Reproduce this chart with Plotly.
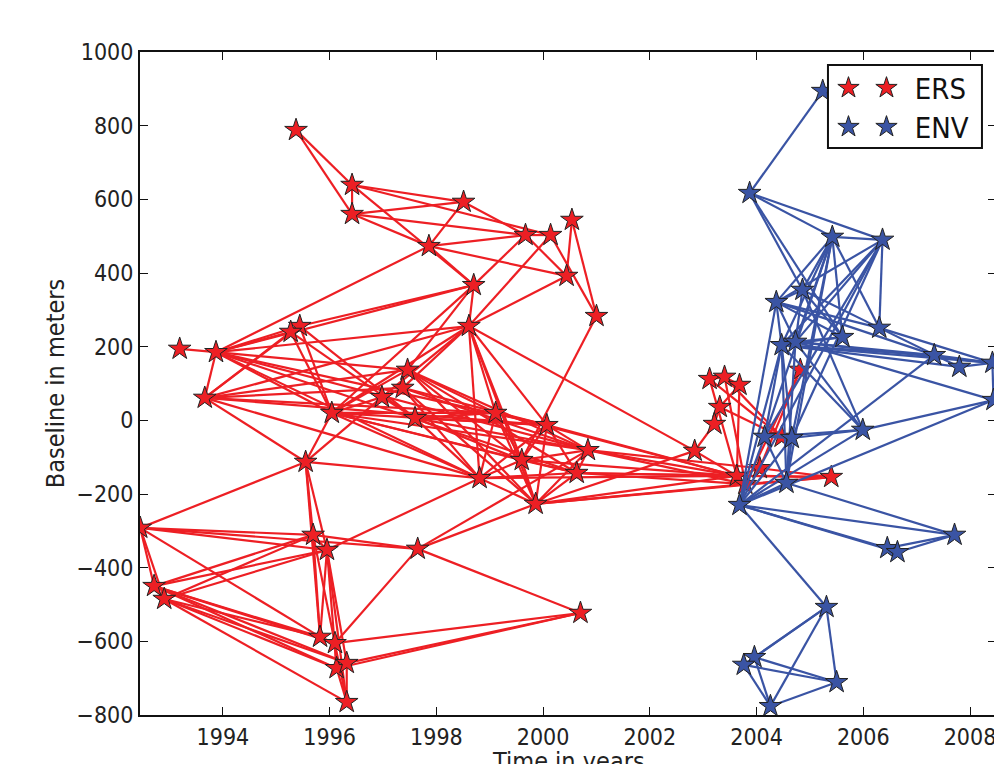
import plotly.graph_objects as go

# ERS acquisitions: time (years) and perpendicular baseline (m)
ers_year = [1995.37, 1996.42, 1996.42, 1998.51, 1997.86, 1998.70, 1999.67, 2000.14, 2000.54, 2000.44,
            2001.00, 1993.19, 1993.87, 1993.66, 1995.44, 1995.27, 1998.61, 1995.55, 1996.04, 1997.46,
            1997.37, 1996.98, 1997.60, 1999.11, 2000.07, 2000.84, 2000.63, 1999.60, 1998.81, 1999.86,
            1997.65, 1992.45, 1992.71, 1992.90, 1995.69, 1995.95, 1995.82, 1996.10, 1996.13, 1996.32,
            1996.32, 2000.70, 2003.12, 2003.40, 2003.68, 2003.31, 2003.21, 2002.84, 2004.82, 2003.63,
            2003.79, 2004.06, 2004.47, 2005.40]
ers_base = [788, 639, 560, 593, 473, 367, 503, 503, 544, 392,
            283, 194, 185, 61, 256, 240, 256, -113, 20, 137,
            88, 63, 6, 20, -13, -81, -143, -108, -157, -227,
            -349, -292, -450, -485, -311, -352, -588, -605, -673, -659,
            -765, -523, 112, 118, 96, 36, -10, -83, 137, -151,
            -173, -130, -45, -154]

# ENVISAT acquisitions
env_year = [2005.24, 2003.87, 2005.42, 2006.36, 2004.37, 2004.86, 2006.30, 2005.61, 2004.47, 2004.73,
            2007.33, 2007.80, 2008.42, 2008.44, 2005.99, 2004.15, 2004.66, 2004.56, 2003.68, 2007.71,
            2006.45, 2006.64, 2005.31, 2003.96, 2003.76, 2005.50, 2004.26]
env_base = [894, 617, 498, 490, 321, 354, 251, 226, 204, 213,
            177, 145, 156, 55, -26, -45, -48, -170, -230, -311,
            -347, -358, -507, -643, -664, -711, -776]

# interferometric pairs (1-based acquisition numbers)
ers_pairs = [(1,2),(1,3),(2,3),(2,4),(2,8),(2,6),(3,4),(3,7),(3,5),(4,5),(4,7),(5,7),(5,10),(5,13),(5,6),
             (6,15),(6,17),(6,7),(17,8),(17,10),(7,8),(7,10),(8,11),(9,11),(9,10),(11,28),(6,20),(6,19),
             (17,21),(17,22),(17,19),(17,29),(17,28),(17,30),(17,24),(17,25),(17,48),
             (12,13),(13,14),(13,15),(13,16),(13,17),(13,6),(13,20),(13,26),(13,27),(13,25),(13,19),(13,29),
             (14,15),(14,16),(14,17),(14,20),(14,21),(14,24),(14,25),(14,18),(14,29),
             (15,19),(16,19),(15,23),(16,23),(18,19),(18,22),(18,29),(18,32),(18,35),(18,36),(18,37),
             (19,20),(19,22),(19,24),(19,25),(19,26),(19,27),(19,28),(19,29),
             (20,24),(20,26),(20,27),(20,30),(20,28),(21,25),(21,26),(21,29),(21,30),(22,23),(22,21),
             (23,24),(23,25),(23,26),(23,28),(23,29),(24,25),(24,28),(24,29),(24,30),
             (25,26),(25,27),(25,28),(25,29),(25,30),(26,27),(26,30),(26,28),(27,28),(27,29),(27,30),
             (28,29),(28,30),(29,30),
             (26,50),(27,51),(25,50),(28,50),(30,50),(30,51),(27,50),(26,51),(24,50),(29,50),(30,54),
             (27,54),(30,48),(26,52),
             (32,35),(32,36),(32,33),(32,34),(32,37),(32,31),(33,35),(33,36),(34,35),(34,36),
             (33,37),(33,38),(33,39),(33,40),(34,37),(34,39),(34,40),(34,41),(33,34),(35,36),(35,31),
             (36,39),(36,40),(36,41),(35,37),(35,41),(36,37),(37,38),(38,39),(39,40),(40,41),(39,41),
             (38,42),(40,42),(39,42),(31,38),(31,26),(31,30),(31,42),(36,29),
             (43,44),(43,53),(43,50),(44,51),(44,53),(45,46),(46,47),(47,48),(46,53),(48,50),(49,52),
             (49,51),(50,52),(50,54),(51,54),(52,54),(45,50),(44,45)]
env_pairs = [(1,2),(2,3),(2,4),(2,6),(2,8),(3,4),(3,5),(3,6),(3,9),(3,10),(3,8),(3,16),(3,17),(3,18),
             (4,5),(4,9),(4,10),(4,7),(4,16),(4,17),(4,19),(5,6),(5,9),(5,7),(5,8),(5,11),(6,7),(6,8),
             (6,15),(9,11),(9,12),(9,13),(10,11),(10,13),(10,14),(11,13),(12,13),(13,14),(9,15),(10,15),
             (15,16),(15,17),(15,14),(16,17),(16,9),(17,9),(19,11),(19,14),(19,15),(19,18),(19,16),
             (19,17),(19,9),(19,5),(19,20),(19,21),(19,22),(18,20),(20,21),(20,22),(21,22),(19,23),
             (23,24),(23,25),(23,26),(23,27),(24,25),(24,26),(24,27),(25,26),(25,27),(26,27),
             (18,17),(18,16),(18,9),(18,10),(7,13),(7,12),(8,9),(8,10),(5,10),(6,10),(3,7)]

RED = "#ed1f24"
BLUE = "#3a54a4"
EDGE = "#222222"
MSIZE = 17
FONT = "DejaVu Sans Condensed, DejaVu Sans, sans-serif"


def segments(xs, ys, pairs):
    sx, sy = [], []
    for a, b in pairs:
        sx += [xs[a - 1], xs[b - 1], None]
        sy += [ys[a - 1], ys[b - 1], None]
    return sx, sy


fig = go.Figure()

for xs, ys, pairs, col, name, leg_a, leg_b in [
        (ers_year, ers_base, ers_pairs, RED, "ERS", "legend3", "legend"),
        (env_year, env_base, env_pairs, BLUE, "ENV", "legend4", "legend2")]:
    sx, sy = segments(xs, ys, pairs)
    fig.add_trace(go.Scatter(x=sx, y=sy, mode="lines", line=dict(color=col, width=2.2),
                             showlegend=False, hoverinfo="skip"))
    star = dict(symbol="star", size=MSIZE, color=col, line=dict(color=EDGE, width=1))
    fig.add_trace(go.Scatter(x=[None], y=[None], mode="markers", marker=star, name="",
                             legend=leg_a, showlegend=True))
    fig.add_trace(go.Scatter(x=xs, y=ys, mode="markers", marker=star, name="\u00a0" + name,
                             legend=leg_b, showlegend=True))

axis_common = dict(showline=True, linecolor="#111111", linewidth=2, mirror="ticks",
                   ticks="inside", ticklen=8, tickwidth=1, tickcolor="#111111",
                   showgrid=False, zeroline=False,
                   tickfont=dict(family=FONT, size=23, color="#222222"))

leg_common = dict(orientation="h", xanchor="left", yanchor="middle",
                  bgcolor="rgba(0,0,0,0)", itemwidth=30,
                  font=dict(family=FONT, size=29, color="#111111"))

fig.update_layout(
    width=994, height=756,
    margin=dict(l=132, r=6, t=44, b=49),
    plot_bgcolor="white", paper_bgcolor="white",
    xaxis=dict(range=[1992.446, 2008.487], tickmode="array",
               tickvals=[1994, 1996, 1998, 2000, 2002, 2004, 2006, 2008],
               automargin=False, **axis_common),
    yaxis=dict(range=[-800, 1000], tickmode="array",
               tickvals=[-800, -600, -400, -200, 0, 200, 400, 600, 800, 1000],
               title=dict(text="Baseline in meters", standoff=5,
                          font=dict(family=FONT, size=25, color="#222222")),
               automargin=False, **axis_common),
    legend3=dict(x=0.8043, y=0.9457, **leg_common),
    legend=dict(x=0.8487, y=0.9457, **leg_common),
    legend4=dict(x=0.8043, y=0.8869, **leg_common),
    legend2=dict(x=0.8487, y=0.8869, **leg_common),
    shapes=[dict(type="rect", xref="paper", yref="paper", x0=0.8037, x1=0.9836,
                 y0=0.8552, y1=0.9804, line=dict(color="#111111", width=2),
                 fillcolor="white", layer="above")],
    annotations=[dict(text="Time in years", xref="paper", yref="paper", x=0.5, y=-0.0452,
                      xanchor="center", yanchor="top", showarrow=False,
                      font=dict(family=FONT, size=25, color="#222222"))],
)

fig.write_html("out.html")
